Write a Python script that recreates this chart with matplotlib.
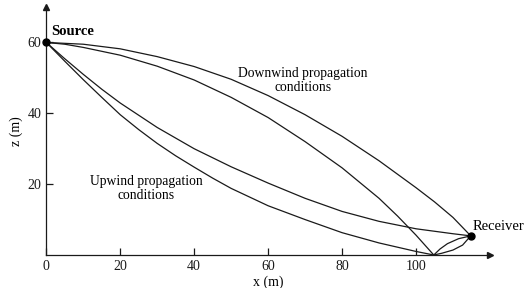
import matplotlib.pyplot as plt

plt.rcParams['font.family'] = ['Liberation Serif', 'DejaVu Serif']

# ray paths (x in m, z in m)
down_direct_x = [0, 10, 20, 30, 40, 50, 60, 70, 80, 90, 100, 105, 110, 114.8]
down_direct_z = [60, 59.5, 58.2, 56.0, 53.2, 49.6, 45.0, 39.6, 33.5, 26.6, 19.0, 15.0, 10.6, 5.4]

down_refl_x = [0, 5, 10, 20, 30, 40, 50, 60, 70, 80, 90, 95, 100, 104.8]
down_refl_z = [60, 59.5, 58.6, 56.4, 53.3, 49.4, 44.5, 38.8, 32.0, 24.6, 16.0, 11.0, 5.6, 0]

up_direct_x = [0, 5, 10, 15, 20, 30, 40, 50, 60, 70, 80, 90, 100, 110, 114.8]
up_direct_z = [60, 55.4, 51.0, 46.8, 42.9, 36.0, 30.0, 24.9, 20.3, 16.0, 12.3, 9.5, 7.4, 6.0, 5.4]

up_refl_x = [0, 5, 10, 15, 20, 25, 30, 35, 40, 45, 50, 60, 70, 80, 90, 100, 104.8]
up_refl_z = [60, 54.7, 49.5, 44.5, 39.6, 35.4, 31.5, 28.0, 24.8, 21.7, 18.8, 13.9, 10.0, 6.3, 3.4, 1.0, 0]

# the two short reflected legs from the ground point to the receiver
bounce_hi_x = [104.8, 106.5, 108.5, 111.5, 114.8]
bounce_hi_z = [0, 1.7, 3.2, 4.6, 5.4]
bounce_lo_x = [104.8, 107, 110, 112.6, 114.8]
bounce_lo_z = [0, 0.5, 1.4, 2.8, 5.4]

source = (0, 60)
receiver = (114.8, 5.4)

fig = plt.figure(figsize=(5.26, 2.88), dpi=100)
ax = fig.add_axes([0.088, 0.1146, 0.8435, 0.861])

lc = '#1a1a1a'
lw = 0.9
for xs, zs in [(down_direct_x, down_direct_z), (down_refl_x, down_refl_z),
               (up_direct_x, up_direct_z), (up_refl_x, up_refl_z),
               (bounce_hi_x, bounce_hi_z), (bounce_lo_x, bounce_lo_z)]:
    ax.plot(xs, zs, color=lc, lw=lw, clip_on=False)

ax.plot(*source, 'o', color='black', ms=5, clip_on=False, zorder=5)
ax.plot(*receiver, 'o', color='black', ms=5, clip_on=False, zorder=5)

ax.set_xlim(0, 120)
ax.set_ylim(0, 70)
for s in ['top', 'right']:
    ax.spines[s].set_visible(False)
for s in ['left', 'bottom']:
    ax.spines[s].set_linewidth(0.9)
    ax.spines[s].set_color(lc)

# axis arrows
ax.plot(1, 0, '>', color=lc, ms=5, transform=ax.get_yaxis_transform(), clip_on=False)
ax.plot(0, 1, '^', color=lc, ms=5, transform=ax.get_xaxis_transform(), clip_on=False)

ax.set_xticks([0, 20, 40, 60, 80, 100])
ax.set_yticks([20, 40, 60])
ax.tick_params(direction='in', length=5, width=0.9, labelsize=10, colors=lc)
ax.set_xlabel('x (m)', fontsize=10, labelpad=2)
ax.set_ylabel('z (m)', fontsize=10, labelpad=3)

ax.text(1.2, 61.3, 'Source', fontsize=10.5, fontweight='bold', ha='left', va='bottom')
ax.text(115.3, 6.3, 'Receiver', fontsize=10.5, ha='left', va='bottom', clip_on=False)
ax.text(69.4, 49.2, 'Downwind propagation\nconditions', fontsize=9.8,
        ha='center', va='center', linespacing=1.1)
ax.text(27.1, 18.7, 'Upwind propagation\nconditions', fontsize=9.8,
        ha='center', va='center', linespacing=1.1)

fig.savefig('out.png', dpi=100)
